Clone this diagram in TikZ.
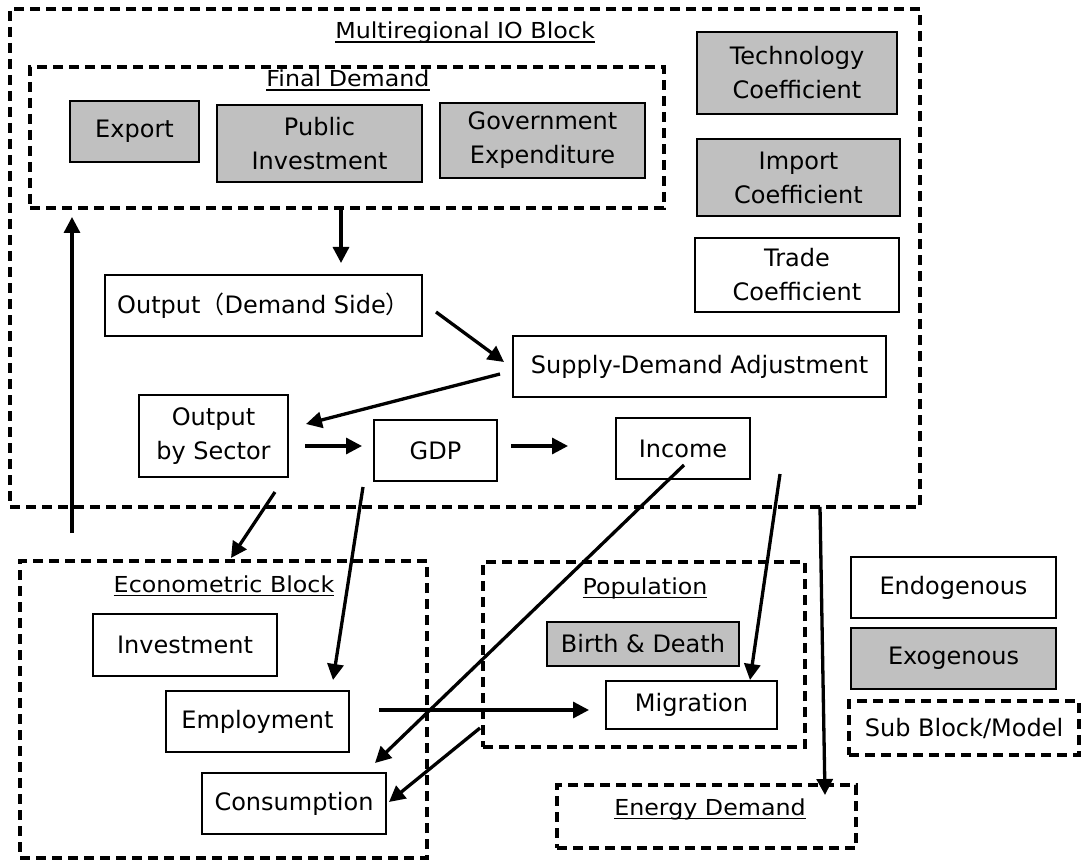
\documentclass[tikz,border=0pt]{standalone}
\usepackage{fontspec}
\setmainfont{DejaVu Sans}
\newfontfamily\ttlfont[FakeStretch=1.08]{DejaVu Sans}
\newfontfamily\cjk{Noto Sans CJK JP}
\usetikzlibrary{arrows.meta,positioning}
\definecolor{exogray}{RGB}{192,192,192}
\newsavebox\ulbox
\newcommand{\ulin}[1]{\sbox\ulbox{#1}\rlap{\rule[-4pt]{\wd\ulbox}{1.5pt}}\usebox\ulbox}

\begin{document}
\begin{tikzpicture}[x=1pt, y=-1pt, >={Triangle[length=16pt,width=16pt]}]

\tikzset{
  block/.style={
    rectangle, draw, line width=1.5pt, align=center,
    inner sep=0pt, outer sep=0pt,
    font=\fontsize{24}{34}\selectfont
  },
  exo/.style={block, fill=exogray},
  dframe/.style={
    rectangle, draw, line width=3.3pt, dash pattern=on 10pt off 6pt,
    inner sep=0pt, outer sep=0pt, font=\fontsize{24}{29}\selectfont
  },
  ttl/.style={inner sep=0pt, anchor=base, font=\ttlfont\fontsize{22}{27}\selectfont},
  wh/.style 2 args={minimum width=#1pt, minimum height=#2pt},
  arrow/.style={->, line width=3.3pt}
}

\useasboundingbox (0,0) rectangle (1082,861);

% ==========================
% Multiregional IO block
% ==========================
\node[dframe, wh={910}{498}] (mrio) at (465,258) {};
\node[ttl] (mriot) at (465,39) {\ulin{Multiregional IO Block}};

\node[dframe, wh={634}{141}] (fd) at (347,137.5) {};
\node[ttl] (fdt) at (348,87) {\ulin{Final Demand}};
\node[exo, wh={129}{61}] (exp) at (134.5,131.5) {Export};
\node[exo, wh={205}{77}] (pinv) at (319.5,143.5) {Public\\Investment};
\node[exo, wh={205}{75}] (gexp) at (542.5,140.5) {Government\\Expenditure};

\node[exo, wh={200}{82}] (tech) at (797,73) {Technology\\Coefficient};
\node[exo, wh={203}{77}] (imp) at (798.5,177.5) {Import\\Coefficient};
\node[block, wh={204}{74}] (trade) at (797,275) {Trade\\Coefficient};

\node[block, wh={317}{61}] (outd) at (263.5,305.5) {Output{\cjk （}Demand Side{\cjk ）}};
\node[block, wh={373}{61}] (sda) at (699.5,366.5) {Supply-Demand Adjustment};
\node[block, wh={149}{82}] (obs) at (213.5,436) {Output\\by Sector};
\node[block, wh={123}{61}] (gdp) at (435.5,450.5) {GDP};
\node[block, wh={134}{61}] (inc) at (683,448.5) {Income};

% ==========================
% Econometric block
% ==========================
\node[dframe, wh={407}{297}] (econ) at (223.5,709.5) {};
\node[ttl] (econt) at (224,592) {\ulin{Econometric Block}};
\node[block, wh={184}{62}] (invst) at (185,645) {Investment};
\node[block, wh={183}{61}] (empl) at (257.5,721.5) {Employment};
\node[block, wh={184}{61}] (cons) at (294,803.5) {Consumption};

% ==========================
% Population and energy
% ==========================
\node[dframe, wh={322}{185}] (pop) at (644,654.5) {};
\node[ttl] (popt) at (645,594) {\ulin{Population}};
\node[exo, wh={192}{44}] (bd) at (643,644) {Birth \& Death};
\node[block, wh={171}{48}] (mig) at (691.5,705) {Migration};

\node[dframe, wh={299}{63}] (energy) at (706.5,816.5) {};
\node[ttl] (energyt) at (710,815) {\ulin{Energy Demand}};

% Legend
\node[block, wh={205}{61}] (endo) at (953.5,587.5) {Endogenous};
\node[exo, wh={205}{61}] (exog) at (953.5,658.5) {Exogenous};
\node[dframe, wh={230}{54}] (subm) at (964,728) {Sub Block/Model};

% ==========================
% Arrows
% ==========================
\draw[arrow] ([shift={(-6,0)}]fd.south) -- ([shift={(77.5,-12)}]outd.north);
\draw[arrow] ([shift={(14,6.5)}]outd.east) -- ([shift={(-9,-4.5)}]sda.west);
\draw[arrow] ([shift={(-13,7.5)}]sda.west) -- ([shift={(18,-12)}]obs.east);
\draw[arrow] ([shift={(17,10)}]obs.east) -- ([shift={(-12,-4.5)}]gdp.west);
\draw[arrow] ([shift={(14,-4.5)}]gdp.east) -- ([shift={(-48,-2.5)}]inc.west);
\draw[arrow] ([shift={(61.5,15)}]obs.south) -- ([shift={(7.5,-3)}]econ.north);
\draw[arrow] ([shift={(-72.5,6)}]gdp.south) -- ([shift={(75.5,-11)}]empl.north);
\draw[arrow] ([shift={(1,16.5)}]inc.center) -- ([shift={(-11,-10)}]cons.north east);
\draw[arrow] ([shift={(30,-5)}]inc.south east) -- ([shift={(-27,-1)}]mig.north east);
\draw[arrow] ([shift={(30,-11.5)}]empl.east) -- ([shift={(-17,5)}]mig.west);
\draw[arrow] ([shift={(-3,-19)}]pop.south west) -- ([shift={(3,-1.5)}]cons.east);
\draw[arrow] ([shift={(-100,0)}]mrio.south east) -- ([shift={(-31,10)}]energy.north east);
\draw[arrow] ([shift={(52,-28)}]econ.north west) -- ([shift={(42,9)}]fd.south west);

\end{tikzpicture}
\end{document}
